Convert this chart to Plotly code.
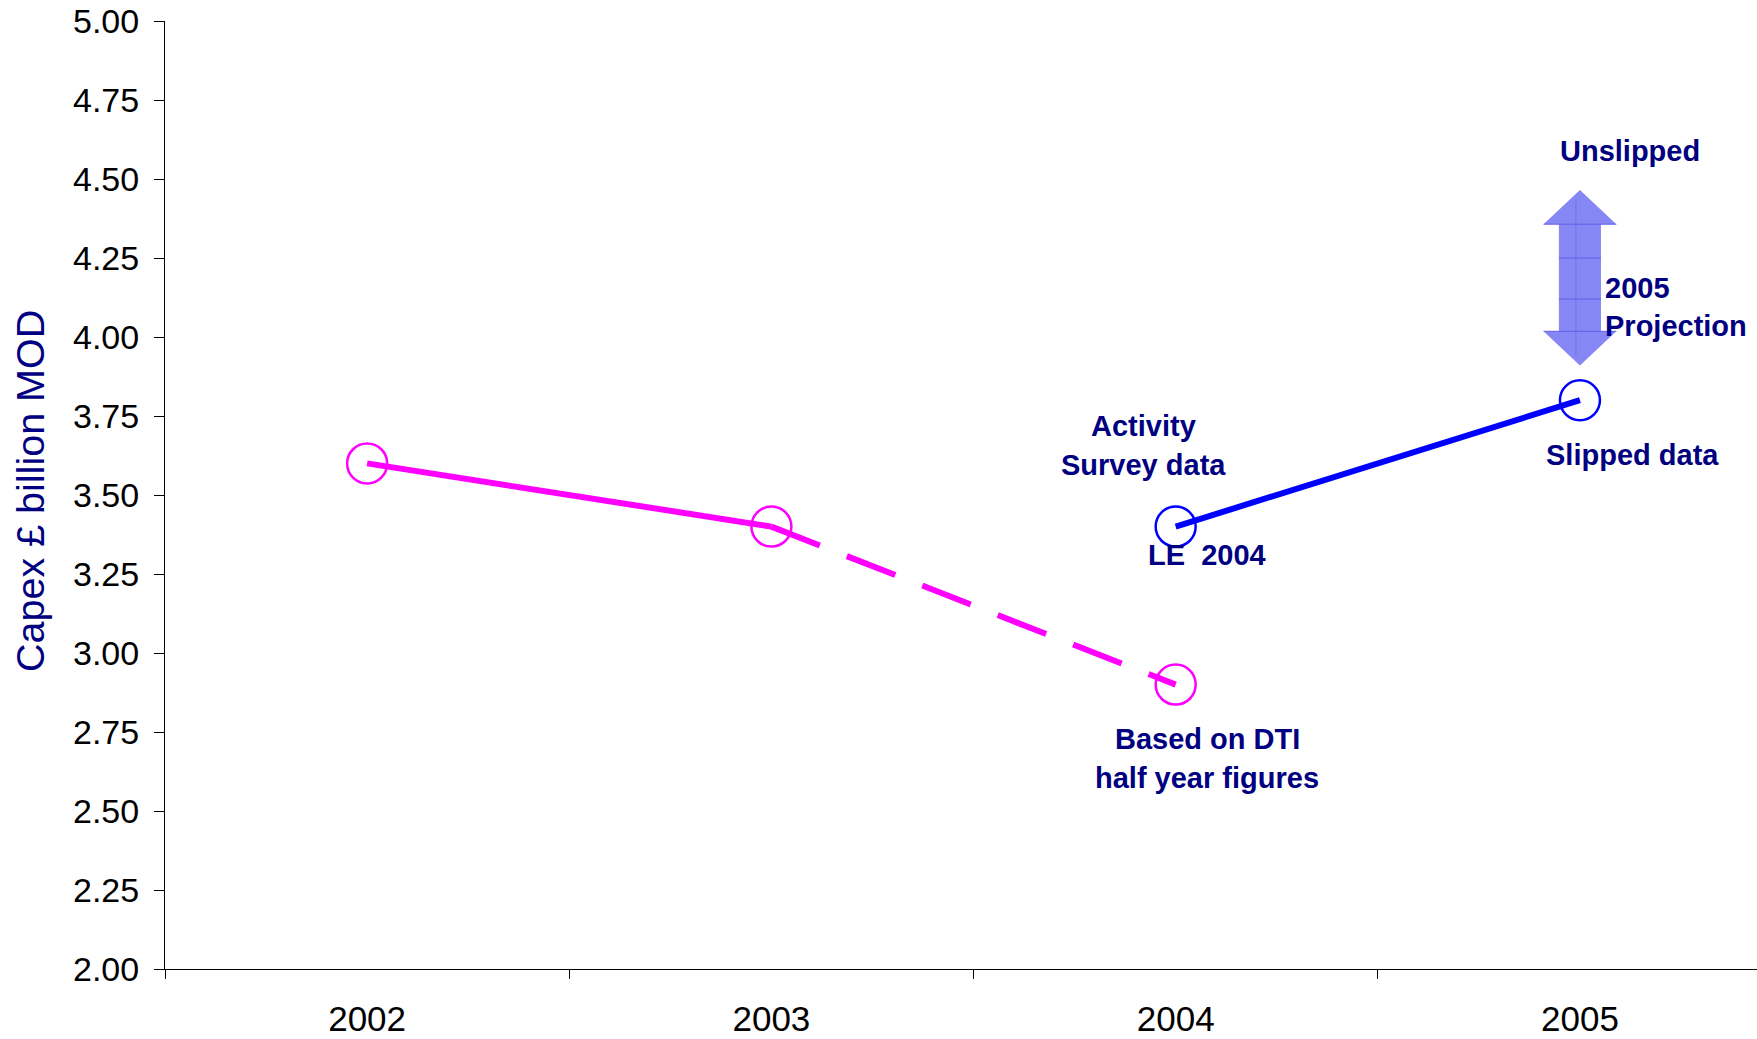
import plotly.graph_objects as go

# ---- data ----
years = ["2002", "2003", "2004", "2005"]
actual_x = ["2002", "2003"]
actual_y = [3.60, 3.40]
dti_x = ["2003", "2004"]
dti_y = [3.40, 2.90]
le_x = ["2004", "2005"]
le_y = [3.40, 3.80]
proj_low = 3.91
proj_high = 4.465
y_ticks = [2.00, 2.25, 2.50, 2.75, 3.00, 3.25, 3.50, 3.75, 4.00, 4.25, 4.50, 4.75, 5.00]

MAGENTA = "#FF00FF"
BLUE = "#0000FF"
NAVY = "#000080"
FONT = "Liberation Sans, Arial, sans-serif"

fig = go.Figure()

fig.add_trace(go.Scatter(x=actual_x, y=actual_y, mode="lines+markers",
                         line=dict(color=MAGENTA, width=6),
                         marker=dict(symbol="circle-open", size=40, color=MAGENTA,
                                     line=dict(width=2.5, color=MAGENTA)),
                         showlegend=False, hoverinfo="skip"))
fig.add_trace(go.Scatter(x=dti_x, y=dti_y, mode="lines",
                         line=dict(color=MAGENTA, width=6, dash="52px,29px"),
                         showlegend=False, hoverinfo="skip"))
fig.add_trace(go.Scatter(x=[dti_x[-1]], y=[dti_y[-1]], mode="markers",
                         marker=dict(symbol="circle-open", size=40, color=MAGENTA,
                                     line=dict(width=2.5, color=MAGENTA)),
                         showlegend=False, hoverinfo="skip"))
fig.add_trace(go.Scatter(x=le_x, y=le_y, mode="lines+markers",
                         line=dict(color=BLUE, width=6),
                         marker=dict(symbol="circle-open", size=40, color=BLUE,
                                     line=dict(width=2.5, color=BLUE)),
                         showlegend=False, hoverinfo="skip"))

# ---- double-headed projection arrow at 2005 ----
cx = years.index("2005")
hw, sw = 0.09, 0.052            # head half-width, shaft half-width (category units)
head_h = 0.108                   # head height (data units)
top, bot = proj_high, proj_low
path = (f"M {cx},{top} L {cx+hw},{top-head_h} L {cx+sw},{top-head_h} "
        f"L {cx+sw},{bot+head_h} L {cx+hw},{bot+head_h} L {cx},{bot} "
        f"L {cx-hw},{bot+head_h} L {cx-sw},{bot+head_h} L {cx-sw},{top-head_h} "
        f"L {cx-hw},{top-head_h} Z")
fig.add_shape(type="path", path=path, xref="x", yref="y",
              fillcolor="#8686F4", line=dict(width=0), layer="above")
# faint grid texture lines on the arrow
for gy in [top - head_h, 4.25, 4.12, bot + head_h]:
    w = hw if gy in (top - head_h, bot + head_h) else sw
    fig.add_shape(type="line", xref="x", yref="y", x0=cx - w, x1=cx + w, y0=gy, y1=gy,
                  line=dict(color="#6060E8", width=1), layer="above")
fig.add_shape(type="line", xref="x", yref="y", x0=cx - 0.01, x1=cx - 0.01,
              y0=bot + 0.03, y1=top - 0.03, line=dict(color="#7070EC", width=1), layer="above")

# ---- annotations ----
def note(text, x, y, xanchor="center"):
    fig.add_annotation(text=text, x=x, y=y, xref="x", yref="y", showarrow=False,
                       xanchor=xanchor, yanchor="middle",
                       font=dict(family=FONT, size=29, color=NAVY, weight="bold"))

note("Activity", 1.92, 3.718)
note("Survey data", 1.92, 3.595)
note("LE  2004", 2.078, 3.31)
note("Based on DTI", 2.078, 2.728)
note("half year figures", 2.078, 2.605)
note("Unslipped", 3.124, 4.59)
note("2005", 3.057, 4.155, xanchor="left")
note("Projection", 3.057, 4.035, xanchor="left")
note("Slipped data", 3.131, 3.627)

fig.add_annotation(text="Capex £ billion MOD", xref="paper", yref="paper",
                   x=0, y=0.5, xshift=-135, yshift=4, textangle=-90, showarrow=False,
                   xanchor="center", yanchor="middle",
                   font=dict(family=FONT, size=39.5, color=NAVY))

fig.update_layout(
    width=1757, height=1039,
    margin=dict(l=165, r=0, t=21, b=70),
    paper_bgcolor="white", plot_bgcolor="white",
    font=dict(family=FONT, color="black"),
    xaxis=dict(type="category", categoryorder="array", categoryarray=years,
               range=[-0.5, 3.438], tickson="boundaries", ticks="outside",
               ticklen=9, tickcolor="black", showline=True, linecolor="black",
               linewidth=1, showgrid=False, zeroline=False,
               tickfont=dict(family=FONT, size=35, color="black"),
               ticklabelstandoff=19),
    yaxis=dict(range=[2.0, 5.0], tickvals=y_ticks,
               ticktext=[f"{v:.2f}" for v in y_ticks], ticks="outside",
               ticklen=10, tickcolor="black", showline=True, linecolor="black",
               linewidth=1, showgrid=False, zeroline=False,
               tickfont=dict(family=FONT, size=34, color="black"),
               ticklabelstandoff=8),
)

fig.write_html("out.html")
